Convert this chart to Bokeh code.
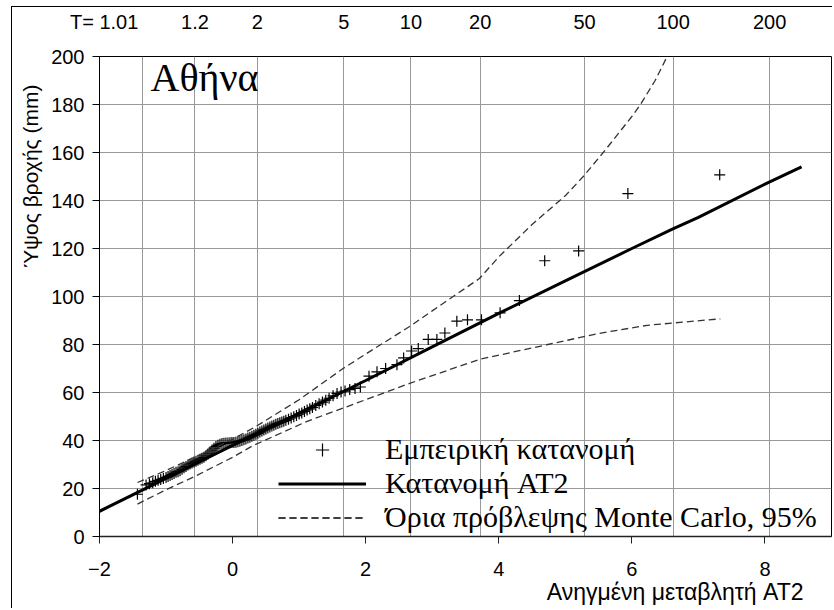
import math
from bokeh.plotting import figure
from bokeh.models import (LinearAxis, FixedTicker, Range1d, Label, Legend,
                          LegendItem, Title)
from bokeh.embed import file_html
from bokeh.resources import INLINE

# ---------------- data ----------------
x_ticks = [-2, 0, 2, 4, 6, 8]
y_ticks = [0, 20, 40, 60, 80, 100, 120, 140, 160, 180, 200]

# return periods T and their position on the reduced-variate axis
t_pos = [-1.36, -0.565, 0.37, 1.67, 2.68, 3.72, 5.29, 6.62, 8.07]
t_labels = ["T= 1.01", "1.2", "2", "5", "10", "20", "50", "100", "200"]

# empirical distribution (reduced variate, rainfall depth mm)
emp_x = [-1.43, -1.30, -1.25, -1.20, -1.16, -1.12, -1.08, -1.04, -1.00, -0.97,
         -0.94, -0.91, -0.88, -0.85, -0.82, -0.79, -0.76, -0.73, -0.70, -0.67,
         -0.64, -0.61, -0.58, -0.55, -0.52, -0.49, -0.46, -0.43, -0.40, -0.37,
         -0.34, -0.31, -0.28, -0.25, -0.22, -0.19, -0.16, -0.13, -0.10, -0.07,
         -0.04, -0.01, 0.02, 0.05, 0.08, 0.11, 0.14, 0.17, 0.20, 0.23,
         0.26, 0.29, 0.32, 0.35, 0.38, 0.41, 0.44, 0.47, 0.50, 0.53,
         0.56, 0.59, 0.62, 0.65, 0.68, 0.71, 0.74, 0.77, 0.80, 0.84,
         0.88, 0.92, 0.96, 1.00, 1.04, 1.08, 1.12, 1.16, 1.20, 1.25,
         1.30, 1.35, 1.40, 1.45, 1.51, 1.57, 1.63, 1.69, 1.76, 1.84,
         1.92, 2.05, 2.17, 2.30, 2.47, 2.57, 2.69, 2.79, 2.94, 3.07,
         3.19, 3.37, 3.53, 3.74, 4.02, 4.31, 4.69, 5.20, 5.94, 7.32]
emp_y = [17.6, 21.5, 22.0, 22.4, 23.0, 23.4, 23.8, 24.2, 24.6, 25.0,
         25.4, 25.8, 26.3, 26.8, 27.0, 27.4, 28.0, 28.6, 29.2, 29.8,
         30.2, 30.6, 31.0, 31.4, 31.8, 32.2, 32.6, 33.0, 33.6, 34.4,
         35.2, 36.0, 36.8, 37.5, 38.0, 38.4, 38.7, 38.9, 39.0, 39.0,
         39.1, 39.2, 39.2, 39.3, 39.5, 39.7, 40.0, 40.3, 40.6, 41.0,
         41.4, 41.8, 42.2, 42.6, 43.0, 43.5, 44.0, 44.4, 44.8, 45.2,
         45.6, 46.0, 46.4, 46.8, 47.1, 47.4, 47.7, 48.0, 48.4, 48.9,
         49.4, 49.9, 50.4, 51.0, 51.5, 52.1, 52.7, 53.2, 53.8, 54.6,
         55.3, 56.0, 56.8, 57.6, 58.6, 59.6, 60.2, 60.6, 61.2, 61.7,
         62.3, 66.8, 68.6, 70.0, 71.6, 74.4, 77.3, 78.3, 82.1, 82.1,
         84.8, 89.7, 90.3, 90.3, 93.2, 98.3, 114.9, 119.0, 142.9, 150.7]

# fitted AT2 distribution
at2_x = [-2.0, -1.0, 0.0, 1.0, 2.0, 3.0, 4.0, 5.0, 6.0, 6.6, 7.0, 8.0, 8.55]
at2_y = [10.5, 24.2, 38.0, 51.3, 65.0, 79.0, 93.0, 106.5, 120.0, 128.0, 133.0, 146.8, 154.0]

# Monte Carlo 95% prediction limits
upper_x = [-1.43, -1.0, -0.57, 0.0, 0.36, 1.0, 1.66, 2.0, 2.66, 3.0, 3.71, 4.0,
           4.5, 5.0, 5.27, 5.6, 6.0, 6.13, 6.35, 6.53, 6.6]
upper_y = [22.5, 27.5, 33.0, 40.5, 46.0, 57.0, 70.0, 76.0, 87.5, 94.0, 107.5, 116.5,
           130.0, 142.0, 150.0, 161.0, 175.0, 180.0, 190.0, 200.0, 204.0]
lower_x = [-1.43, -1.0, -0.57, 0.0, 0.3, 1.12, 1.66, 2.66, 3.71, 4.74, 5.48, 6.23, 7.33]
lower_y = [13.5, 19.5, 25.0, 33.0, 37.8, 48.0, 53.5, 63.8, 73.8, 80.0, 84.5, 88.0, 90.7]

SANS = "Liberation Sans"
SERIF = "Liberation Serif"

p = figure(width=821, height=602, x_range=Range1d(-2, 9.0), y_range=Range1d(0, 200),
           output_backend="svg", toolbar_location=None,
           min_border_left=87, min_border_top=46, min_border_bottom=73,
           min_border_right=2, background_fill_color="white",
           border_fill_color="white")
p.styles = {"margin-left": "11px", "margin-top": "6px",
            "border-left": "1px solid black", "border-top": "1px solid black"}

p.outline_line_color = "black"
p.outline_line_width = 1

# bottom axis
xa = p.xaxis[0]
xa.ticker = FixedTicker(ticks=x_ticks)
xa.major_tick_out = 7
xa.major_tick_in = 0
xa.minor_tick_line_color = None
xa.axis_line_color = "#222222"
xa.axis_line_width = 1.5
xa.major_tick_line_color = "#222222"
xa.major_label_standoff = 18
xa.major_label_text_font = SANS
xa.major_label_text_font_size = "20px"
xa.major_label_text_color = "black"

# left axis
ya = p.yaxis[0]
ya.ticker = FixedTicker(ticks=y_ticks)
ya.major_tick_out = 7
ya.major_tick_in = 0
ya.minor_tick_line_color = None
ya.axis_line_color = "black"
ya.major_label_standoff = 8
ya.major_label_text_font = SANS
ya.major_label_text_font_size = "20px"
ya.major_label_text_color = "black"

# top axis with return periods (first label sits left of its grid line)
label_pos = [t_pos[0] - 0.57] + t_pos[1:]
overrides = {t: lab for t, lab in zip(label_pos, t_labels)}
ta = LinearAxis(ticker=FixedTicker(ticks=label_pos), major_label_overrides=overrides,
                axis_line_color=None, major_tick_line_color=None,
                minor_tick_line_color=None, major_label_standoff=18,
                major_label_text_font=SANS, major_label_text_font_size="20px",
                major_label_text_color="black")
p.add_layout(ta, "above")

# axis titles
p.add_layout(Title(text="Ανηγμένη μεταβλητή AT2", align="right", vertical_align="top",
                   offset=28, standoff=0, text_font=SANS, text_font_size="23px",
                   text_font_style="normal", text_color="black"), "below")
p.add_layout(Title(text="Ύψος βροχής (mm)", align="right", vertical_align="top",
                   offset=28, standoff=9, text_font=SANS, text_font_size="21px",
                   text_font_style="normal", text_color="black"), "left")

# grid
p.xgrid[0].ticker = FixedTicker(ticks=t_pos)
p.xgrid.grid_line_color = "#999999"
p.ygrid.grid_line_color = "#999999"

# series
sc = p.scatter(emp_x, emp_y, marker="cross", size=11, line_color="black",
               line_width=1.2)
ln = p.line(at2_x, at2_y, line_color="black", line_width=3)
up = p.line(upper_x, upper_y, line_color="#333333", line_width=1.3, line_dash="7 4")
lo = p.line(lower_x, lower_y, line_color="#333333", line_width=1.3, line_dash="7 4")

legend = Legend(items=[LegendItem(label="Εμπειρική κατανομή", renderers=[sc]),
                       LegendItem(label="Κατανομή AT2", renderers=[ln]),
                       LegendItem(label="Όρια πρόβλεψης Monte Carlo, 95%", renderers=[up, lo])],
                location=(179, 2), padding=0, margin=0, spacing=0,
                glyph_width=88, glyph_height=33, label_height=33, label_standoff=19,
                label_text_font=SERIF, label_text_font_size="30px",
                label_text_color="black", background_fill_alpha=0,
                border_line_alpha=0)
p.add_layout(legend)

p.add_layout(Label(x=-2, y=200, x_offset=51, y_offset=-21, text="Αθήνα",
                   text_font=SERIF, text_font_size="40px", text_baseline="alphabetic",
                   text_color="black"))

open("out.html", "w").write(file_html(p, INLINE))
